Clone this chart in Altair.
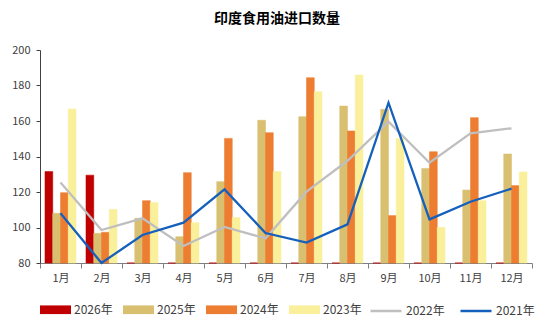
import altair as alt
import pandas as pd

months = [f"{i}月" for i in range(1, 13)]
bar_series = ["2026年", "2025年", "2024年", "2023年"]
bar_colors = ["#C00000", "#D9BF70", "#ED7D31", "#FAF09C"]
line_series = ["2022年", "2021年"]
line_colors = ["#BFBFBF", "#1560BD"]

y2026 = [131.5, 129.5, 0, 0, 0, 0, 0, 0, 0, 0, 0, 0]
y2025 = [108, 96.7, 105.2, 94.8, 125.8, 160.4, 162.4, 168.4, 166.6, 133.3, 121.1, 141.4]
y2024 = [119.6, 97.3, 115.1, 130.9, 150.2, 153.4, 184.4, 154.4, 106.7, 142.7, 161.9, 123.6]
y2023 = [166.8, 110.2, 114.0, 102.7, 105.6, 131.5, 176.5, 185.9, 150.2, 100.1, 115.1, 131.3]
y2022 = [125.3, 98.6, 105.2, 89.6, 100.3, 93.9, 120.2, 137.6, 159.6, 136.5, 153.0, 155.9]
y2021 = [108.0, 80.0, 95.8, 102.7, 121.5, 96.9, 91.5, 101.8, 170.3, 104.6, 114.5, 121.9]
y_ticks = [80, 100, 120, 140, 160, 180, 200]

bar_rows = []
for s, vals in zip(bar_series, [y2026, y2025, y2024, y2023]):
    for m, v in zip(months, vals):
        bar_rows.append({"month": m, "series": s, "value": v})
bar_df = pd.DataFrame(bar_rows)

line_rows = []
for s, vals in zip(line_series, [y2022, y2021]):
    for m, v in zip(months, vals):
        line_rows.append({"month": m, "series": s, "value": v})
line_df = pd.DataFrame(line_rows)

FONT = "Noto Sans CJK SC"

x_enc = alt.X(
    "month:N",
    sort=months,
    scale=alt.Scale(paddingInner=0, paddingOuter=0),
    axis=alt.Axis(
        title=None, labelAngle=0, tickBand="extent", tickSize=5,
        domainColor="#7F7F7F", tickColor="#7F7F7F", labelColor="#404040",
        labelFontSize=11, labelFont=FONT, labelPadding=4, grid=False,
    ),
)
y_enc = alt.Y(
    "value:Q",
    scale=alt.Scale(domain=[80, 200], clamp=True, nice=False, zero=False),
    axis=alt.Axis(
        title=None, values=y_ticks, grid=False,
        tickSize=4, domainColor="#404040", tickColor="#404040",
        labelColor="#404040", labelFontSize=11, labelFont=FONT, labelPadding=6,
        labelOverlap=False,
    ),
)

bars = alt.Chart(bar_df).mark_bar(strokeWidth=1, strokeOpacity=0.55).encode(
    x=x_enc,
    xOffset=alt.XOffset("series:N", sort=bar_series,
                        scale=alt.Scale(paddingInner=0, paddingOuter=0.645)),
    y=y_enc,
    y2=alt.datum(80),
    fill=alt.Fill(
        "series:N",
        scale=alt.Scale(domain=bar_series, range=bar_colors),
        legend=alt.Legend(
            orient="none", legendX=0, legendY=244, direction="horizontal",
            title=None,
            symbolType="M-1,-0.28H1V0.28H-1Z", symbolSize=961,
            symbolStrokeWidth=0, labelFontSize=12, labelFont=FONT,
            labelColor="#404040", labelOffset=3, columnPadding=10,
        ),
    ),
    stroke=alt.Stroke("series:N",
                      scale=alt.Scale(domain=bar_series, range=bar_colors),
                      legend=None),
)

lines = alt.Chart(line_df).mark_line(strokeWidth=2.3).encode(
    x=x_enc,
    y=y_enc,
    stroke=alt.Stroke(
        "series:N",
        scale=alt.Scale(domain=line_series, range=line_colors),
        legend=alt.Legend(
            orient="none", legendX=329, legendY=244, direction="horizontal",
            title=None,
            symbolType="stroke", symbolSize=961, symbolStrokeWidth=2.5,
            labelFontSize=12, labelFont=FONT, labelColor="#404040",
            labelOffset=3, columnPadding=10,
        ),
    ),
)

chart = (
    alt.layer(bars, lines)
    .resolve_scale(stroke="independent")
    .properties(
        width=492,
        height=213,
        autosize=alt.AutoSizeParams(type="none"),
        padding={"left": 40, "top": 50, "right": 18, "bottom": 67},
        title=alt.Title("印度食用油进口数量", font=FONT, fontSize=14,
                        fontWeight="bold", color="#000000", offset=18, dx=-9),
        background="#FFFFFF",
    )
    .configure_view(stroke=None)
)

chart.save("out.html", embed_options={"renderer": "svg", "actions": False})
